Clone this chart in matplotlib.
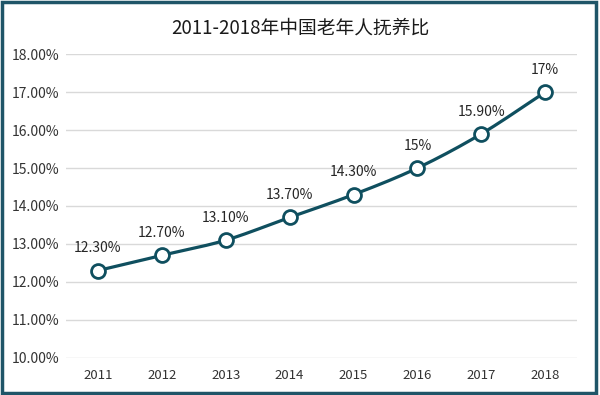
import matplotlib.pyplot as plt
import numpy as np
from matplotlib.patches import Rectangle

plt.rcParams['font.family'] = ['Noto Sans CJK SC', 'DejaVu Sans']

years = ['2011', '2012', '2013', '2014', '2015', '2016', '2017', '2018']
ratio = [12.3, 12.7, 13.1, 13.7, 14.3, 15.0, 15.9, 17.0]
labels = ['12.30%', '12.70%', '13.10%', '13.70%', '14.30%', '15%', '15.90%', '17%']

color = '#0f4f5f'

# smoothed line like the office chart (catmull-rom through the points)
def smooth(x, y, n=20):
    x = np.asarray(x, float)
    y = np.asarray(y, float)
    px = np.concatenate([[2 * x[0] - x[1]], x, [2 * x[-1] - x[-2]]])
    py = np.concatenate([[2 * y[0] - y[1]], y, [2 * y[-1] - y[-2]]])
    xs, ys = [], []
    for i in range(1, len(px) - 2):
        t = np.linspace(0, 1, n, endpoint=False)
        for p, out in ((px, xs), (py, ys)):
            p0, p1, p2, p3 = p[i - 1], p[i], p[i + 1], p[i + 2]
            out.extend(0.5 * (2 * p1 + (-p0 + p2) * t
                              + (2 * p0 - 5 * p1 + 4 * p2 - p3) * t ** 2
                              + (-p0 + 3 * p1 - 3 * p2 + p3) * t ** 3))
    xs.append(x[-1])
    ys.append(y[-1])
    return xs, ys

fig = plt.figure(figsize=(6, 3.95), dpi=100)
ax = fig.add_axes([0.11, 0.094, 0.852, 0.769])

x = np.arange(len(years))
sx, sy = smooth(x, ratio)
ax.plot(sx, sy, color=color, lw=2.3, zorder=3)
ax.plot(x, ratio, 'o', ms=10, mfc='white', mec=color, mew=2, zorder=4)

for xi, yi, lab in zip(x, ratio, labels):
    ax.annotate(lab, (xi, yi), xytext=(0, 11), textcoords='offset points',
                ha='center', va='bottom', fontsize=10, color='#262626')

ax.set_xlim(-0.5, len(years) - 0.5)
ax.set_ylim(10, 18)
ax.set_yticks(np.arange(10, 18.1, 1))
ax.set_yticklabels(['%.2f%%' % v for v in np.arange(10, 18.1, 1)])
ax.set_xticks(x)
ax.set_xticklabels(years)
ax.tick_params(length=0, labelsize=9.5, colors='#333333', pad=8)
ax.tick_params(axis='y', labelsize=10, pad=5)
ax.grid(axis='y', color='#d9d9d9', lw=1)
ax.set_axisbelow(True)
for s in ax.spines.values():
    s.set_visible(False)

fig.text(0.5, 0.928, '2011-2018年中国老年人抚养比', ha='center', va='center',
         fontsize=13.5, color='#1a1a1a')

fig.patches.append(Rectangle((0.004, 0.006), 0.99, 0.988, transform=fig.transFigure,
                             fill=False, ec='#1f5568', lw=2.5))

fig.savefig('out.png', dpi=100)
